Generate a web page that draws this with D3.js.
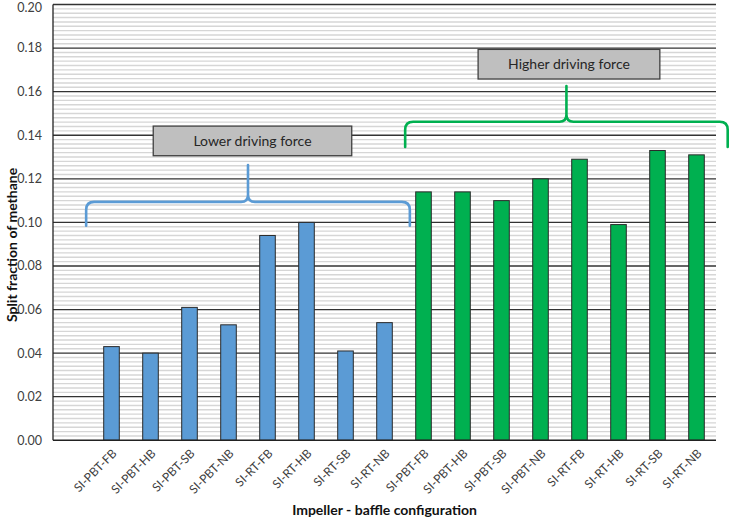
<!DOCTYPE html>
<html>
<head>
<meta charset="utf-8">
<script src="https://cdn.jsdelivr.net/npm/d3@7"></script>
<style>
  html, body { margin: 0; padding: 0; background: #fff; }
  svg { display: block; font-family: Lato, "Open Sans", sans-serif; }
</style>
</head>
<body>
<svg id="chart" width="729" height="519"></svg>
<script>
// ---- data ----
const categories = ["",
  "SI-PBT-FB", "SI-PBT-HB", "SI-PBT-SB", "SI-PBT-NB", "SI-RT-FB", "SI-RT-HB", "SI-RT-SB", "SI-RT-NB",
  "SI-PBT-FB", "SI-PBT-HB", "SI-PBT-SB", "SI-PBT-NB", "SI-RT-FB", "SI-RT-HB", "SI-RT-SB", "SI-RT-NB"];
const lowerValues  = [0.043, 0.040, 0.061, 0.053, 0.094, 0.100, 0.041, 0.054];
const higherValues = [0.114, 0.114, 0.110, 0.120, 0.129, 0.099, 0.133, 0.131];
const yTicks = [0.00, 0.02, 0.04, 0.06, 0.08, 0.10, 0.12, 0.14, 0.16, 0.18, 0.20];
const yTitle = "Split fraction of methane";
const xTitle = "Impeller - baffle configuration";
const groupLabels = ["Lower driving force", "Higher driving force"];
// brace annotations in data units: [startIndex, endIndex, level, endValue, tipValue]
const braceLower  = [0.85, 9.15, 0.1094, 0.0985, 0.1263];
const braceHigher = [9.03, 17.3, 0.1462, 0.1346, 0.1626];
// label boxes in data units: [x0Index, x1Index, yTop, yBottom]
const boxLower  = [2.57, 7.66, 0.1442, 0.1306];
const boxHigher = [10.9, 15.56, 0.1794, 0.1658];

// ---- layout ----
const svg = d3.select("#chart");
const L = 53, R = 716, T = 4.5, B = 440.3;
const blue = "#5B9BD5", green = "#00B050";

const idx = d3.range(categories.length);
const x = d3.scaleBand().domain(idx).range([L, R]).paddingInner(0.6).paddingOuter(0.3);
const xi = d3.scaleLinear().domain([0, categories.length]).range([L, R]); // continuous index
const y = d3.scaleLinear().domain([0, 0.20]).range([B, T]);

// minor gridlines
const minor = d3.range(0, 0.2001, 0.002).filter(v => Math.abs(v / 0.02 - Math.round(v / 0.02)) > 1e-6);
svg.append("g").selectAll("line").data(minor).join("line")
  .attr("x1", L).attr("x2", R)
  .attr("y1", d => y(d)).attr("y2", d => y(d))
  .attr("stroke", "#D6D6D6").attr("stroke-width", 1.4);
// major gridlines
svg.append("g").selectAll("line").data(yTicks.slice(1)).join("line")
  .attr("x1", L).attr("x2", R)
  .attr("y1", d => y(d)).attr("y2", d => y(d))
  .attr("stroke", "#333").attr("stroke-width", 1.3);

// bars
const barData = [
  ...lowerValues.map((v, i) => ({ i: i + 1, v, c: blue })),
  ...higherValues.map((v, i) => ({ i: i + 9, v, c: green }))
];
svg.append("g").selectAll("rect").data(barData).join("rect")
  .attr("x", d => x(d.i)).attr("width", x.bandwidth())
  .attr("y", d => y(d.v)).attr("height", d => y(0) - y(d.v))
  .attr("fill", d => d.c).attr("stroke", "#2b2b2b").attr("stroke-width", 1);

// axes lines
svg.append("line").attr("x1", L).attr("x2", L).attr("y1", y(0.2)).attr("y2", B)
  .attr("stroke", "#222").attr("stroke-width", 1.3);
svg.append("line").attr("x1", L).attr("x2", R).attr("y1", B).attr("y2", B)
  .attr("stroke", "#222").attr("stroke-width", 1.5);

// y tick labels
svg.append("g").selectAll("text").data(yTicks).join("text")
  .attr("x", 42).attr("y", d => Math.max(y(d), 8)).attr("dy", "0.35em")
  .attr("text-anchor", "end").attr("font-size", 12.5).attr("fill", "#404040")
  .text(d => d.toFixed(2));

// x tick labels
svg.append("g").selectAll("text").data(idx.filter(i => categories[i] !== "")).join("text")
  .attr("transform", i => `translate(${x(i) + x.bandwidth() / 2 + 3},${B + 11}) rotate(-45)`)
  .attr("text-anchor", "end").attr("dy", "0.35em")
  .attr("font-size", 12).attr("fill", "#404040")
  .text(i => categories[i]);

// axis titles
svg.append("text").attr("x", (L + R) / 2).attr("y", 515)
  .attr("text-anchor", "middle").attr("font-weight", "bold").attr("font-size", 14).attr("fill", "#111")
  .text(xTitle);
svg.append("text").attr("transform", "translate(17,245) rotate(-90)")
  .attr("text-anchor", "middle").attr("font-weight", "bold").attr("font-size", 14).attr("fill", "#111")
  .text(yTitle);

// braces
function bracePath(b) {
  const x0 = xi(b[0]), x1 = xi(b[1]), xc = (x0 + x1) / 2;
  const yH = y(b[2]), yE = y(b[3]), yT = y(b[4]);
  const r = 8, c = 7;
  return `M${x0},${yE} L${x0},${yH + r} Q${x0},${yH} ${x0 + r},${yH} L${xc - c},${yH} Q${xc},${yH} ${xc},${yH - c} L${xc},${yT}` +
         ` M${xc},${yH - c} Q${xc},${yH} ${xc + c},${yH} L${x1 - r},${yH} Q${x1},${yH} ${x1},${yH + r} L${x1},${yE}`;
}
svg.append("path").attr("d", bracePath(braceLower)).attr("fill", "none")
  .attr("stroke", blue).attr("stroke-width", 2.6).attr("stroke-linecap", "round");
svg.append("path").attr("d", bracePath(braceHigher)).attr("fill", "none")
  .attr("stroke", green).attr("stroke-width", 2.6).attr("stroke-linecap", "round");

// label boxes
[[boxLower, groupLabels[0]], [boxHigher, groupLabels[1]]].forEach(([b, t]) => {
  const x0 = xi(b[0]), x1 = xi(b[1]), y0 = y(b[2]), y1 = y(b[3]);
  svg.append("rect").attr("x", x0).attr("y", y0).attr("width", x1 - x0).attr("height", y1 - y0)
    .attr("fill", "#BFBFBF").attr("stroke", "#404040").attr("stroke-width", 1.3);
  svg.append("text").attr("x", (x0 + x1) / 2).attr("y", (y0 + y1) / 2).attr("dy", "0.35em")
    .attr("text-anchor", "middle").attr("font-size", 14).attr("fill", "#262626").text(t);
});
</script>
</body>
</html>
